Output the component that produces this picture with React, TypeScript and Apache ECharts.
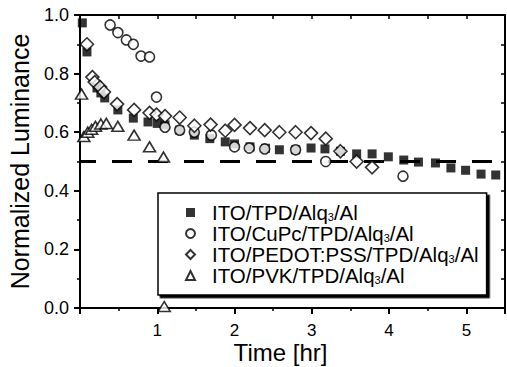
import React, { useEffect, useRef } from 'react';
import * as echarts from 'echarts';

const seriesNames = [
  'ITO/TPD/Alq3/Al',
  'ITO/CuPc/TPD/Alq3/Al',
  'ITO/PEDOT:PSS/TPD/Alq3/Al',
  'ITO/PVK/TPD/Alq3/Al',
];

// [time (hr), normalized luminance]
const tpdData: number[][] = [
  [0.03, 0.973], [0.09, 0.874], [0.22, 0.751], [0.27, 0.734], [0.32, 0.717],
  [0.49, 0.676], [0.69, 0.648], [0.88, 0.635], [1.0, 0.63], [1.1, 0.625],
  [1.29, 0.607], [1.48, 0.59], [1.68, 0.578], [1.88, 0.567], [2.0, 0.56],
  [2.2, 0.55], [2.4, 0.545], [2.58, 0.54], [2.79, 0.54], [2.99, 0.546],
  [3.17, 0.543], [3.37, 0.535], [3.58, 0.526], [3.78, 0.526], [3.99, 0.516],
  [4.19, 0.505], [4.38, 0.498], [4.6, 0.495], [4.8, 0.478], [4.99, 0.47],
  [5.19, 0.457], [5.38, 0.454],
];

const cupcData: number[][] = [
  [0.39, 0.966], [0.49, 0.94], [0.6, 0.915], [0.69, 0.9], [0.79, 0.86],
  [0.9, 0.857], [0.99, 0.72], [1.1, 0.617], [1.29, 0.607], [1.48, 0.6],
  [1.7, 0.59], [2.0, 0.55], [2.19, 0.546], [2.39, 0.543], [2.79, 0.54],
  [3.18, 0.5], [4.18, 0.45],
];

const pedotData: number[][] = [
  [0.09, 0.9], [0.16, 0.788], [0.19, 0.771], [0.26, 0.754], [0.31, 0.737],
  [0.48, 0.696], [0.7, 0.676], [0.9, 0.666], [0.99, 0.66], [1.1, 0.655],
  [1.29, 0.65], [1.48, 0.622], [1.69, 0.626], [1.88, 0.605], [2.0, 0.625],
  [2.2, 0.614], [2.39, 0.607], [2.58, 0.6], [2.79, 0.6], [2.99, 0.597],
  [3.18, 0.578], [3.37, 0.535], [3.58, 0.5], [3.78, 0.48],
];

const pvkData: number[][] = [
  [0.02, 0.73], [0.05, 0.585], [0.1, 0.6], [0.15, 0.61], [0.2, 0.62],
  [0.27, 0.628], [0.34, 0.63], [0.49, 0.62], [0.7, 0.59], [0.9, 0.55],
  [1.08, 0.515], [1.09, 0.005],
];

const thresholdLevel = 0.5;
const thresholdSpan = [0, 5.4];

const xMin = 0;
const xMax = 5.5;
const xLabelTicks = [1, 2, 3, 4, 5];
const yMin = 0;
const yMax = 1.0;

const FONT = '"Liberation Sans", Arial, Helvetica, sans-serif';

export default function App() {
  const ref = useRef<HTMLDivElement>(null);

  useEffect(() => {
    if (!ref.current) return;
    const chart = echarts.init(ref.current, undefined, { renderer: 'svg' });

    const black = '#000';
    const openStyle = { color: '#fff', borderColor: black, borderWidth: 1.6 };

    const option: any = {
      animation: false,
      backgroundColor: '#fff',
      grid: { left: 80, right: 2, top: 15, bottom: 59, containLabel: false, outerBoundsMode: 'none' },
      legend: {
        data: seriesNames,
        orient: 'vertical',
        left: 158,
        top: 193,
        padding: [9, 8, 9, 27],
        itemWidth: 9,
        itemHeight: 9,
        itemGap: 0,
        backgroundColor: '#fff',
        borderColor: black,
        borderWidth: 1.5,
        borderRadius: 0,
        shadowColor: black,
        shadowBlur: 0,
        shadowOffsetX: 2.5,
        shadowOffsetY: 2.5,
        formatter: (name: string) => name.replace('Alq3', 'Alq{sub|3}'),
        textStyle: {
          fontFamily: FONT,
          fontSize: 20.5,
          lineHeight: 20,
          color: black,
          padding: [0, 0, 0, 12],
          rich: {
            sub: { fontFamily: FONT, fontSize: 11, lineHeight: 9, verticalAlign: 'bottom', color: black },
          },
        },
      },
      xAxis: [
        {
          type: 'value',
          position: 'bottom',
          min: xMin,
          max: xMax,
          interval: 1,
          name: 'Time [hr]',
          nameLocation: 'middle',
          nameGap: 32,
          nameMoveOverlap: false,
          nameTextStyle: { fontFamily: FONT, fontSize: 24, lineHeight: 24, color: black, padding: [0, 24, 0, 0] },
          axisLine: { show: true, onZero: false, lineStyle: { color: black, width: 2 } },
          axisTick: { show: true, inside: false, length: 6, lineStyle: { color: black, width: 2 } },
          axisLabel: {
            margin: 14,
            fontFamily: FONT,
            fontSize: 17,
            lineHeight: 17,
            color: black,
            formatter: (v: number) => (xLabelTicks.includes(v) ? String(v) : ''),
          },
          splitLine: { show: false },
        },
        {
          type: 'value',
          position: 'bottom',
          min: xMin,
          max: xMax,
          interval: 0.5,
          axisLine: { show: false, onZero: false },
          axisTick: { show: true, inside: false, length: 3, lineStyle: { color: black, width: 1.5 } },
          axisLabel: { show: false },
          splitLine: { show: false },
        },
        {
          type: 'value',
          position: 'top',
          min: xMin,
          max: xMax,
          interval: 0.5,
          axisLine: { show: true, onZero: false, lineStyle: { color: black, width: 2 } },
          axisTick: { show: true, inside: true, length: 4, lineStyle: { color: black, width: 1.5 } },
          axisLabel: { show: false },
          splitLine: { show: false },
        },
      ],
      yAxis: [
        {
          type: 'value',
          position: 'left',
          min: yMin,
          max: yMax,
          interval: 0.2,
          name: 'Normalized Luminance',
          nameLocation: 'middle',
          nameGap: 48,
          nameMoveOverlap: false,
          nameTextStyle: { fontFamily: FONT, fontSize: 25, color: black },
          axisLine: { show: true, onZero: false, lineStyle: { color: black, width: 2 } },
          axisTick: { show: true, inside: false, length: 6, lineStyle: { color: black, width: 2 } },
          minorTick: { show: true, splitNumber: 2, length: 3, lineStyle: { color: black, width: 1.5 } },
          axisLabel: {
            margin: 11,
            fontFamily: FONT,
            fontSize: 18,
            color: black,
            formatter: (v: number) => v.toFixed(1),
          },
          splitLine: { show: false },
          minorSplitLine: { show: false },
        },
        {
          type: 'value',
          position: 'right',
          min: yMin,
          max: yMax,
          interval: 0.1,
          axisLine: { show: true, onZero: false, lineStyle: { color: black, width: 2 } },
          axisTick: { show: true, inside: true, length: 4, lineStyle: { color: black, width: 1.5 } },
          axisLabel: { show: false },
          splitLine: { show: false },
        },
      ],
      series: [
        {
          name: 'threshold',
          type: 'line',
          xAxisIndex: 0,
          yAxisIndex: 0,
          data: thresholdSpan.map((x) => [x, thresholdLevel]),
          symbol: 'none',
          silent: true,
          lineStyle: { color: black, width: 3, type: [20, 16], dashOffset: 4 },
          z: 1,
        },
        {
          name: seriesNames[0],
          type: 'scatter',
          xAxisIndex: 0,
          yAxisIndex: 0,
          data: tpdData,
          symbol: 'rect',
          symbolSize: 9,
          itemStyle: { color: black, borderColor: black, borderWidth: 0 },
          z: 2,
        },
        {
          name: seriesNames[1],
          type: 'scatter',
          xAxisIndex: 0,
          yAxisIndex: 0,
          data: cupcData,
          symbol: 'circle',
          symbolSize: 10,
          itemStyle: openStyle,
          z: 3,
        },
        {
          name: seriesNames[2],
          type: 'scatter',
          xAxisIndex: 0,
          yAxisIndex: 0,
          data: pedotData,
          symbol: 'diamond',
          symbolSize: 13,
          itemStyle: openStyle,
          z: 4,
        },
        {
          name: seriesNames[3],
          type: 'scatter',
          xAxisIndex: 0,
          yAxisIndex: 0,
          data: pvkData,
          symbol: 'triangle',
          symbolSize: [12, 10],
          itemStyle: openStyle,
          z: 5,
        },
      ],
    };

    chart.setOption(option);
    return () => chart.dispose();
  }, []);

  return (
    <div
      ref={ref}
      style={{ position: 'fixed', left: 0, top: 0, width: 507, height: 367, background: '#fff' }}
    />
  );
}
